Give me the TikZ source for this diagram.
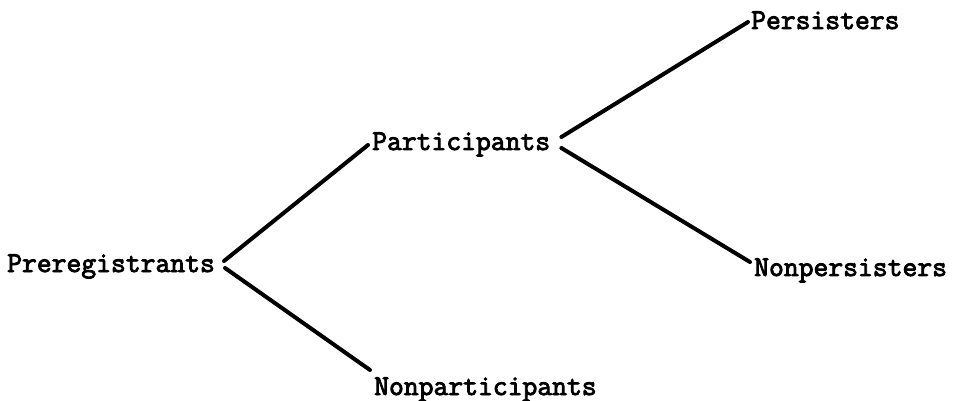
\documentclass[tikz,border=0pt]{standalone}
\usepackage{fontspec}
\newfontfamily\twfont{Latin Modern Mono}[FakeBold=3]
\begin{document}
\begin{tikzpicture}[x=1pt,y=-1pt,
  lbl/.style={anchor=base west,inner sep=0pt,font=\twfont\fontsize{28.8}{32}\selectfont},
  branch/.style={line width=4pt,line cap=round}]
\useasboundingbox (0,0) rectangle (954,401);
\node[lbl] (pre) at (7,272) {Preregistrants};
\node[lbl] (par) at (372,150) {Participants};
\node[lbl] (npa) at (374,395) {Nonparticipants};
\node[lbl] (per) at (751,29) {Persisters};
\node[lbl] (nps) at (754,276) {Nonpersisters};
\draw[branch] ([shift={(9,-11)}]pre.base east) -- ([shift={(-4,-5)}]par.base west);
\draw[branch] ([shift={(10,-4)}]pre.base east) -- ([shift={(-4,-25)}]npa.base west);
\draw[branch] ([shift={(11,-13)}]par.base east) -- ([shift={(-3,-7)}]per.base west);
\draw[branch] ([shift={(11,-2)}]par.base east) -- ([shift={(-4,-14)}]nps.base west);
\end{tikzpicture}
\end{document}
